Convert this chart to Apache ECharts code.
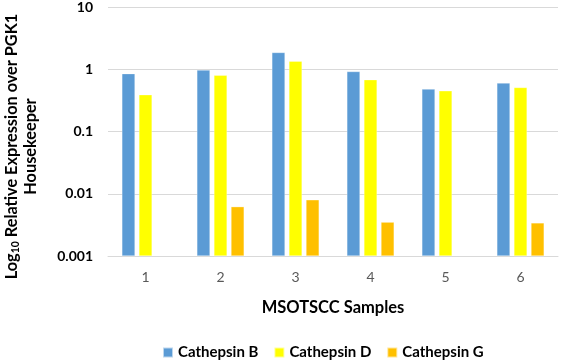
<!DOCTYPE html>
<html>
<head>
<meta charset="utf-8">
<script src="https://cdn.jsdelivr.net/npm/echarts@6/dist/echarts.min.js"></script>
<style>
  html, body { margin: 0; padding: 0; background: #fff; }
  #chart { width: 561px; height: 361px; }
</style>
</head>
<body>
<div id="chart"></div>
<script>
const samples = ['1', '2', '3', '4', '5', '6'];
const cathepsinB = [0.85, 0.97, 1.86, 0.92, 0.48, 0.6];
const cathepsinD = [0.39, 0.8, 1.35, 0.68, 0.45, 0.51];
const cathepsinG = [null, 0.0062, 0.008, 0.0035, null, 0.0034];
const yTicks = [0.001, 0.01, 0.1, 1, 10];

// bars on an ECharts log axis grow from 1, so plot decades above the lowest tick
const floorExp = Math.log10(yTicks[0]);
function toDecades(arr) {
  return arr.map(v => v == null ? null : Math.log10(v) - floorExp);
}

const font = 'Lato';
const chart = echarts.init(document.getElementById('chart'));

function bar(name, data, color) {
  return {
    name: name,
    type: 'bar',
    data: toDecades(data),
    barGap: '30%',
    barCategoryGap: '37%',
    itemStyle: { color: color, borderColor: 'rgba(255,255,255,0.6)', borderWidth: 0.5 }
  };
}

chart.setOption({
  animation: false,
  textStyle: { fontFamily: font },
  grid: { left: 108, right: 3, top: 7, bottom: 105, containLabel: false, outerBoundsMode: 'none' },
  legend: {
    top: 340,
    left: 157,
    icon: 'rect',
    itemWidth: 10,
    itemHeight: 10,
    itemGap: 15,
    textStyle: { fontFamily: font, fontWeight: 'bold', fontSize: 15, color: '#000' }
  },
  xAxis: {
    type: 'category',
    data: samples,
    name: 'MSOTSCC Samples',
    nameLocation: 'middle',
    nameGap: 43,
    nameTextStyle: { fontFamily: font, fontWeight: 'bold', fontSize: 16.5, color: '#000' },
    axisLine: { lineStyle: { color: '#d9d9d9' } },
    axisTick: { show: false },
    axisLabel: { color: '#595959', fontSize: 14, margin: 14 }
  },
  yAxis: {
    type: 'value',
    min: 0,
    max: yTicks.length - 1,
    interval: 1,
    name: '{a|Log}{s|10}{a| Relative Expression over PGK1}\n{a|Housekeeper}',
    nameLocation: 'middle',
    nameGap: 68,
    nameRotate: 90,
    nameTextStyle: {
      padding: [0, 30, 0, 0],
      rich: {
        a: { fontFamily: font, fontWeight: 'bold', fontSize: 16.3, color: '#000', lineHeight: 19 },
        s: { fontFamily: font, fontWeight: 'bold', fontSize: 10.5, color: '#000', verticalAlign: 'bottom', lineHeight: 19, padding: [5, 0, 0, 0] }
      }
    },
    axisLine: { show: false },
    axisTick: { show: false },
    axisLabel: {
      color: '#000',
      fontWeight: 'bold',
      fontSize: 14,
      margin: 15,
      formatter: function (v) { return String(yTicks[Math.round(v)]); }
    },
    splitLine: { lineStyle: { color: '#d9d9d9', width: 1 } }
  },
  series: [
    bar('Cathepsin B', cathepsinB, '#5b9bd5'),
    bar('Cathepsin D', cathepsinD, '#ffff00'),
    bar('Cathepsin G', cathepsinG, '#ffc000')
  ]
});
</script>
</body>
</html>
